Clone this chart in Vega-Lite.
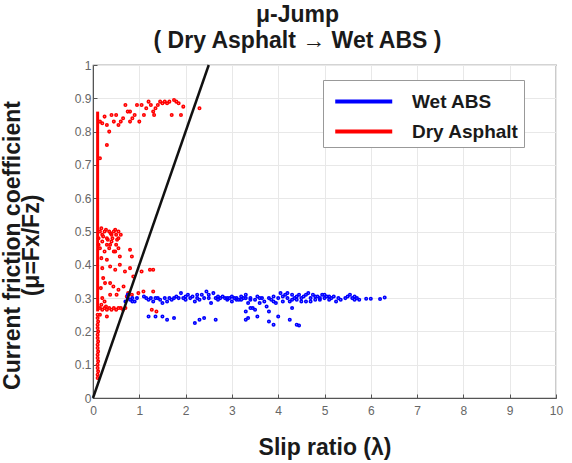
{
  "$schema": "https://vega.github.io/schema/vega-lite/v6.json",
  "width": 463,
  "height": 333,
  "autosize": "none",
  "padding": {"left": 93, "top": 65, "right": 16, "bottom": 65},
  "background": "white",
  "title": {
    "text": ["μ-Jump", "( Dry Asphalt → Wet ABS )"],
    "font": "Liberation Sans",
    "fontSize": 23,
    "fontWeight": "bold",
    "color": "#1a1a1a",
    "lineHeight": 26,
    "anchor": "middle",
    "dx": -27,
    "offset": 6
  },
  "config": {
    "view": {"stroke": "#555555", "strokeWidth": 1.2},
    "axis": {
      "labelFont": "Liberation Sans",
      "labelFontSize": 12,
      "labelColor": "#666666",
      "labelOverlap": false,
      "labelFlush": false,
      "gridColor": "#e8e8e8",
      "gridWidth": 1,
      "domainColor": "#555555",
      "tickColor": "#555555",
      "tickSize": -4,
      "titleFont": "Liberation Sans",
      "titleFontSize": 23,
      "titleFontWeight": "bold",
      "titleColor": "#1a1a1a"
    }
  },
  "encoding": {
    "x": {
      "field": "x", "type": "quantitative",
      "scale": {"domain": [0, 10], "nice": false},
      "axis": {"values": [0,1,2,3,4,5,6,7,8,9,10], "tickCount": 11, "title": "Slip ratio (λ)", "titlePadding": 20, "labelPadding": 11, "labelOverlap": false, "labelFlush": false}
    },
    "y": {
      "field": "y", "type": "quantitative",
      "scale": {"domain": [0, 1], "nice": false},
      "axis": {"values": [0,0.1,0.2,0.3,0.4,0.5,0.6,0.7,0.8,0.9,1], "tickCount": 11, "format": "~g", "labelOverlap": false, "labelFlush": false, "title": ["Current  friction  coefficient", "(μ=Fx/Fz)"], "titlePadding": 31, "labelPadding": 6, "titleY": 180, "titleLineHeight": 19}
    }
  },
  "layer": [
    {
      "data": {"values": [
        {"s":"Dry Asphalt","x":0.1,"y":0.06},{"s":"Dry Asphalt","x":0.1,"y":0.07},{"s":"Dry Asphalt","x":0.11,"y":0.08},{"s":"Dry Asphalt","x":0.1,"y":0.09},{"s":"Dry Asphalt","x":0.1,"y":0.1},{"s":"Dry Asphalt","x":0.11,"y":0.11},{"s":"Dry Asphalt","x":0.1,"y":0.12},{"s":"Dry Asphalt","x":0.1,"y":0.13},{"s":"Dry Asphalt","x":0.11,"y":0.14},{"s":"Dry Asphalt","x":0.1,"y":0.15},{"s":"Dry Asphalt","x":0.1,"y":0.16},{"s":"Dry Asphalt","x":0.11,"y":0.17},{"s":"Dry Asphalt","x":0.1,"y":0.18},{"s":"Dry Asphalt","x":0.1,"y":0.19},{"s":"Dry Asphalt","x":0.11,"y":0.2},{"s":"Dry Asphalt","x":0.1,"y":0.21},{"s":"Dry Asphalt","x":0.1,"y":0.22},{"s":"Dry Asphalt","x":0.11,"y":0.23},{"s":"Dry Asphalt","x":0.1,"y":0.24},{"s":"Dry Asphalt","x":0.1,"y":0.25},
        {"s":"Dry Asphalt","x":0.25,"y":0.845},{"s":"Dry Asphalt","x":0.3,"y":0.82},{"s":"Dry Asphalt","x":0.35,"y":0.8},{"s":"Dry Asphalt","x":0.3,"y":0.76},{"s":"Dry Asphalt","x":0.45,"y":0.83},{"s":"Dry Asphalt","x":0.5,"y":0.85},{"s":"Dry Asphalt","x":0.55,"y":0.82},{"s":"Dry Asphalt","x":0.6,"y":0.83},{"s":"Dry Asphalt","x":0.65,"y":0.84},{"s":"Dry Asphalt","x":0.7,"y":0.88},{"s":"Dry Asphalt","x":0.75,"y":0.86},{"s":"Dry Asphalt","x":0.8,"y":0.86},{"s":"Dry Asphalt","x":0.8,"y":0.83},{"s":"Dry Asphalt","x":0.85,"y":0.84},{"s":"Dry Asphalt","x":0.9,"y":0.85},{"s":"Dry Asphalt","x":0.95,"y":0.88},{"s":"Dry Asphalt","x":1.0,"y":0.83},{"s":"Dry Asphalt","x":1.05,"y":0.88},{"s":"Dry Asphalt","x":1.1,"y":0.85},{"s":"Dry Asphalt","x":1.15,"y":0.87},{"s":"Dry Asphalt","x":1.2,"y":0.89},{"s":"Dry Asphalt","x":1.25,"y":0.88},{"s":"Dry Asphalt","x":1.3,"y":0.86},{"s":"Dry Asphalt","x":1.32,"y":0.85},{"s":"Dry Asphalt","x":1.35,"y":0.87},{"s":"Dry Asphalt","x":1.4,"y":0.88},{"s":"Dry Asphalt","x":1.45,"y":0.89},{"s":"Dry Asphalt","x":1.5,"y":0.885},{"s":"Dry Asphalt","x":1.55,"y":0.89},{"s":"Dry Asphalt","x":1.6,"y":0.885},{"s":"Dry Asphalt","x":1.65,"y":0.89},{"s":"Dry Asphalt","x":1.7,"y":0.85},{"s":"Dry Asphalt","x":1.75,"y":0.895},{"s":"Dry Asphalt","x":1.8,"y":0.89},{"s":"Dry Asphalt","x":1.85,"y":0.885},{"s":"Dry Asphalt","x":1.9,"y":0.85},{"s":"Dry Asphalt","x":1.95,"y":0.875},{"s":"Dry Asphalt","x":2.3,"y":0.87},{"s":"Dry Asphalt","x":0.15,"y":0.72},{"s":"Dry Asphalt","x":0.4,"y":0.85},{"s":"Dry Asphalt","x":0.15,"y":0.83},{"s":"Dry Asphalt","x":0.2,"y":0.825},
        {"s":"Dry Asphalt","x":0.15,"y":0.5},{"s":"Dry Asphalt","x":0.2,"y":0.49},{"s":"Dry Asphalt","x":0.25,"y":0.5},{"s":"Dry Asphalt","x":0.3,"y":0.48},{"s":"Dry Asphalt","x":0.35,"y":0.5},{"s":"Dry Asphalt","x":0.4,"y":0.49},{"s":"Dry Asphalt","x":0.45,"y":0.5},{"s":"Dry Asphalt","x":0.5,"y":0.49},{"s":"Dry Asphalt","x":0.55,"y":0.5},{"s":"Dry Asphalt","x":0.2,"y":0.47},{"s":"Dry Asphalt","x":0.3,"y":0.46},{"s":"Dry Asphalt","x":0.4,"y":0.47},{"s":"Dry Asphalt","x":0.5,"y":0.46},{"s":"Dry Asphalt","x":0.15,"y":0.45},{"s":"Dry Asphalt","x":0.25,"y":0.44},{"s":"Dry Asphalt","x":0.35,"y":0.45},{"s":"Dry Asphalt","x":0.45,"y":0.44},{"s":"Dry Asphalt","x":0.55,"y":0.48},{"s":"Dry Asphalt","x":0.6,"y":0.49},{"s":"Dry Asphalt","x":0.18,"y":0.51},{"s":"Dry Asphalt","x":0.28,"y":0.505},{"s":"Dry Asphalt","x":0.38,"y":0.495},{"s":"Dry Asphalt","x":0.48,"y":0.505},{"s":"Dry Asphalt","x":0.22,"y":0.485},{"s":"Dry Asphalt","x":0.32,"y":0.475},{"s":"Dry Asphalt","x":0.42,"y":0.48},{"s":"Dry Asphalt","x":0.52,"y":0.475},{"s":"Dry Asphalt","x":0.12,"y":0.48},{"s":"Dry Asphalt","x":0.12,"y":0.46},{"s":"Dry Asphalt","x":0.55,"y":0.45},
        {"s":"Dry Asphalt","x":0.37,"y":0.46},{"s":"Dry Asphalt","x":0.48,"y":0.44},{"s":"Dry Asphalt","x":0.58,"y":0.425},{"s":"Dry Asphalt","x":0.8,"y":0.445},{"s":"Dry Asphalt","x":0.84,"y":0.425},{"s":"Dry Asphalt","x":0.3,"y":0.415},{"s":"Dry Asphalt","x":0.37,"y":0.395},{"s":"Dry Asphalt","x":0.48,"y":0.385},{"s":"Dry Asphalt","x":0.58,"y":0.4},{"s":"Dry Asphalt","x":0.69,"y":0.38},{"s":"Dry Asphalt","x":0.8,"y":0.39},{"s":"Dry Asphalt","x":0.87,"y":0.365},{"s":"Dry Asphalt","x":1.05,"y":0.38},{"s":"Dry Asphalt","x":1.23,"y":0.385},{"s":"Dry Asphalt","x":1.3,"y":0.385},{"s":"Dry Asphalt","x":0.26,"y":0.345},{"s":"Dry Asphalt","x":0.37,"y":0.345},{"s":"Dry Asphalt","x":0.44,"y":0.335},{"s":"Dry Asphalt","x":0.55,"y":0.325},{"s":"Dry Asphalt","x":0.66,"y":0.335},{"s":"Dry Asphalt","x":0.76,"y":0.315},{"s":"Dry Asphalt","x":0.37,"y":0.31},{"s":"Dry Asphalt","x":0.51,"y":0.31},{"s":"Dry Asphalt","x":0.73,"y":0.305},{"s":"Dry Asphalt","x":0.84,"y":0.31},{"s":"Dry Asphalt","x":0.98,"y":0.315},{"s":"Dry Asphalt","x":1.09,"y":0.32},{"s":"Dry Asphalt","x":1.3,"y":0.32},{"s":"Dry Asphalt","x":1.27,"y":0.265},{"s":"Dry Asphalt","x":1.37,"y":0.26},{"s":"Dry Asphalt","x":0.3,"y":0.245},
        {"s":"Dry Asphalt","x":0.15,"y":0.27},{"s":"Dry Asphalt","x":0.2,"y":0.265},{"s":"Dry Asphalt","x":0.25,"y":0.27},{"s":"Dry Asphalt","x":0.3,"y":0.265},{"s":"Dry Asphalt","x":0.35,"y":0.27},{"s":"Dry Asphalt","x":0.4,"y":0.265},{"s":"Dry Asphalt","x":0.45,"y":0.27},{"s":"Dry Asphalt","x":0.5,"y":0.265},{"s":"Dry Asphalt","x":0.55,"y":0.27},{"s":"Dry Asphalt","x":0.6,"y":0.27},{"s":"Dry Asphalt","x":0.65,"y":0.265},{"s":"Dry Asphalt","x":0.7,"y":0.27},{"s":"Dry Asphalt","x":0.18,"y":0.28},{"s":"Dry Asphalt","x":0.28,"y":0.275},
        {"s":"Dry Asphalt","x":0.18,"y":0.42},{"s":"Dry Asphalt","x":0.2,"y":0.39},{"s":"Dry Asphalt","x":0.22,"y":0.36},{"s":"Dry Asphalt","x":0.17,"y":0.33},{"s":"Dry Asphalt","x":0.2,"y":0.3},{"s":"Dry Asphalt","x":0.25,"y":0.29},{"s":"Dry Asphalt","x":0.15,"y":0.25},
        {"s":"Wet ABS","x":0.7,"y":0.29},{"s":"Wet ABS","x":0.75,"y":0.3},{"s":"Wet ABS","x":0.8,"y":0.295},{"s":"Wet ABS","x":0.85,"y":0.3},{"s":"Wet ABS","x":0.9,"y":0.29},{"s":"Wet ABS","x":0.95,"y":0.3},{"s":"Wet ABS","x":1.1,"y":0.305},{"s":"Wet ABS","x":1.2,"y":0.295},{"s":"Wet ABS","x":1.25,"y":0.3},{"s":"Wet ABS","x":1.3,"y":0.29},{"s":"Wet ABS","x":1.4,"y":0.3},{"s":"Wet ABS","x":1.45,"y":0.295},{"s":"Wet ABS","x":1.5,"y":0.285},{"s":"Wet ABS","x":1.55,"y":0.3},{"s":"Wet ABS","x":1.6,"y":0.29},{"s":"Wet ABS","x":1.65,"y":0.3},{"s":"Wet ABS","x":1.7,"y":0.295},{"s":"Wet ABS","x":1.75,"y":0.3},{"s":"Wet ABS","x":1.8,"y":0.305},{"s":"Wet ABS","x":1.85,"y":0.3},{"s":"Wet ABS","x":1.9,"y":0.315},{"s":"Wet ABS","x":1.95,"y":0.3},{"s":"Wet ABS","x":2.0,"y":0.295},{"s":"Wet ABS","x":2.05,"y":0.31},{"s":"Wet ABS","x":2.1,"y":0.3},{"s":"Wet ABS","x":2.15,"y":0.305},{"s":"Wet ABS","x":2.2,"y":0.29},{"s":"Wet ABS","x":2.25,"y":0.3},{"s":"Wet ABS","x":2.3,"y":0.295},{"s":"Wet ABS","x":2.35,"y":0.31},{"s":"Wet ABS","x":2.4,"y":0.3},{"s":"Wet ABS","x":2.45,"y":0.32},{"s":"Wet ABS","x":2.5,"y":0.3},{"s":"Wet ABS","x":2.55,"y":0.285},{"s":"Wet ABS","x":2.6,"y":0.315},{"s":"Wet ABS","x":2.65,"y":0.3},{"s":"Wet ABS","x":2.7,"y":0.295},{"s":"Wet ABS","x":2.75,"y":0.3},{"s":"Wet ABS","x":2.8,"y":0.305},{"s":"Wet ABS","x":2.85,"y":0.3},{"s":"Wet ABS","x":2.9,"y":0.295},{"s":"Wet ABS","x":2.95,"y":0.3},{"s":"Wet ABS","x":3.0,"y":0.29},{"s":"Wet ABS","x":3.05,"y":0.3},{"s":"Wet ABS","x":3.1,"y":0.3},{"s":"Wet ABS","x":3.15,"y":0.295},{"s":"Wet ABS","x":3.2,"y":0.305},{"s":"Wet ABS","x":3.25,"y":0.3},{"s":"Wet ABS","x":3.3,"y":0.31},{"s":"Wet ABS","x":3.35,"y":0.285},{"s":"Wet ABS","x":3.4,"y":0.3},{"s":"Wet ABS","x":3.45,"y":0.27},{"s":"Wet ABS","x":3.5,"y":0.295},{"s":"Wet ABS","x":3.55,"y":0.305},{"s":"Wet ABS","x":3.6,"y":0.285},{"s":"Wet ABS","x":3.65,"y":0.3},{"s":"Wet ABS","x":3.7,"y":0.29},{"s":"Wet ABS","x":3.75,"y":0.275},{"s":"Wet ABS","x":3.8,"y":0.3},{"s":"Wet ABS","x":3.85,"y":0.295},{"s":"Wet ABS","x":3.9,"y":0.305},{"s":"Wet ABS","x":3.95,"y":0.285},{"s":"Wet ABS","x":4.0,"y":0.3},{"s":"Wet ABS","x":4.05,"y":0.315},{"s":"Wet ABS","x":4.1,"y":0.29},{"s":"Wet ABS","x":4.15,"y":0.31},{"s":"Wet ABS","x":4.2,"y":0.3},{"s":"Wet ABS","x":4.25,"y":0.29},{"s":"Wet ABS","x":4.3,"y":0.31},{"s":"Wet ABS","x":4.35,"y":0.3},{"s":"Wet ABS","x":4.4,"y":0.295},{"s":"Wet ABS","x":4.45,"y":0.31},{"s":"Wet ABS","x":4.5,"y":0.3},{"s":"Wet ABS","x":4.55,"y":0.305},{"s":"Wet ABS","x":4.6,"y":0.29},{"s":"Wet ABS","x":4.65,"y":0.315},{"s":"Wet ABS","x":4.7,"y":0.3},{"s":"Wet ABS","x":4.75,"y":0.31},{"s":"Wet ABS","x":4.8,"y":0.295},{"s":"Wet ABS","x":4.85,"y":0.305},{"s":"Wet ABS","x":4.9,"y":0.3},{"s":"Wet ABS","x":4.95,"y":0.31},{"s":"Wet ABS","x":5.0,"y":0.3},{"s":"Wet ABS","x":5.05,"y":0.305},{"s":"Wet ABS","x":5.1,"y":0.295},{"s":"Wet ABS","x":5.15,"y":0.3},{"s":"Wet ABS","x":5.2,"y":0.305},{"s":"Wet ABS","x":5.3,"y":0.3},{"s":"Wet ABS","x":5.35,"y":0.295},{"s":"Wet ABS","x":5.45,"y":0.3},{"s":"Wet ABS","x":5.55,"y":0.31},{"s":"Wet ABS","x":5.6,"y":0.3},{"s":"Wet ABS","x":5.65,"y":0.305},{"s":"Wet ABS","x":5.7,"y":0.3},{"s":"Wet ABS","x":5.75,"y":0.295},{"s":"Wet ABS","x":5.9,"y":0.298},{"s":"Wet ABS","x":6.0,"y":0.298},{"s":"Wet ABS","x":6.2,"y":0.297},{"s":"Wet ABS","x":6.3,"y":0.302},
        {"s":"Wet ABS","x":0.75,"y":0.31},{"s":"Wet ABS","x":0.85,"y":0.29},{"s":"Wet ABS","x":1.15,"y":0.3},{"s":"Wet ABS","x":1.35,"y":0.3},{"s":"Wet ABS","x":2.0,"y":0.305},{"s":"Wet ABS","x":2.25,"y":0.31},{"s":"Wet ABS","x":2.5,"y":0.31},{"s":"Wet ABS","x":2.7,"y":0.305},{"s":"Wet ABS","x":2.9,"y":0.3},{"s":"Wet ABS","x":3.0,"y":0.305},{"s":"Wet ABS","x":3.1,"y":0.295},{"s":"Wet ABS","x":3.2,"y":0.295},{"s":"Wet ABS","x":3.3,"y":0.3},{"s":"Wet ABS","x":3.4,"y":0.295},{"s":"Wet ABS","x":3.6,"y":0.3},{"s":"Wet ABS","x":3.9,"y":0.29},{"s":"Wet ABS","x":4.1,"y":0.305},{"s":"Wet ABS","x":4.2,"y":0.315},{"s":"Wet ABS","x":4.3,"y":0.295},{"s":"Wet ABS","x":4.4,"y":0.305},{"s":"Wet ABS","x":4.5,"y":0.29},{"s":"Wet ABS","x":4.6,"y":0.31},{"s":"Wet ABS","x":4.7,"y":0.29},{"s":"Wet ABS","x":4.8,"y":0.305},{"s":"Wet ABS","x":4.9,"y":0.295},{"s":"Wet ABS","x":5.0,"y":0.31},{"s":"Wet ABS","x":5.1,"y":0.305},{"s":"Wet ABS","x":5.25,"y":0.29},{"s":"Wet ABS","x":5.5,"y":0.305},{"s":"Wet ABS","x":5.65,"y":0.295},
        {"s":"Wet ABS","x":1.2,"y":0.245},{"s":"Wet ABS","x":1.35,"y":0.245},{"s":"Wet ABS","x":1.5,"y":0.245},{"s":"Wet ABS","x":1.6,"y":0.235},{"s":"Wet ABS","x":1.75,"y":0.24},{"s":"Wet ABS","x":2.2,"y":0.225},{"s":"Wet ABS","x":2.3,"y":0.235},{"s":"Wet ABS","x":2.4,"y":0.24},{"s":"Wet ABS","x":2.65,"y":0.235},{"s":"Wet ABS","x":3.3,"y":0.235},{"s":"Wet ABS","x":3.35,"y":0.24},{"s":"Wet ABS","x":3.55,"y":0.245},{"s":"Wet ABS","x":3.8,"y":0.23},{"s":"Wet ABS","x":3.9,"y":0.22},{"s":"Wet ABS","x":4.0,"y":0.245},{"s":"Wet ABS","x":4.25,"y":0.235},{"s":"Wet ABS","x":4.4,"y":0.22},{"s":"Wet ABS","x":4.45,"y":0.218},{"s":"Wet ABS","x":3.3,"y":0.26},{"s":"Wet ABS","x":3.4,"y":0.27},{"s":"Wet ABS","x":3.5,"y":0.265},{"s":"Wet ABS","x":3.8,"y":0.26},{"s":"Wet ABS","x":4.3,"y":0.27}
      ]},
      "mark": {"type": "point", "filled": false, "size": 6, "strokeWidth": 1.6, "opacity": 1},
      "encoding": {
        "color": {
          "field": "s", "type": "nominal",
          "scale": {"domain": ["Wet ABS", "Dry Asphalt"], "range": ["#0000ff", "#ff0000"]},
          "legend": {
            "title": null,
            "orient": "none",
            "legendX": 230,
            "legendY": 15,
            "symbolType": "M-0.65,0H3.35",
            "symbolSize": 812,
            "symbolStrokeWidth": 4,
            "labelFont": "Liberation Sans",
            "labelFontSize": 19,
            "labelFontWeight": "bold",
            "labelColor": "#1a1a1a",
            "labelOffset": 51,
            "rowPadding": 3,
            "padding": 5,
            "strokeColor": "#999999",
            "fillColor": "white"
          }
        }
      }
    },
    {
      "data": {"values": [{"x": 0.1, "y": 0.26, "y2": 0.86}]},
      "mark": {"type": "rule", "color": "#ff0000", "strokeWidth": 3},
      "encoding": {
        "y2": {"field": "y2"}
      }
    },
    {
      "data": {"values": [{"x": 0, "y": 0}, {"x": 2.5, "y": 1}]},
      "mark": {"type": "line", "color": "#111111", "strokeWidth": 2.5},
      "encoding": {}
    }
  ]
}
